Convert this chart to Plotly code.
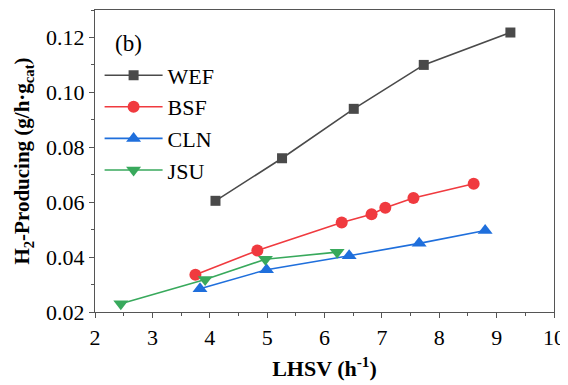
import plotly.graph_objects as go

wef_x = [4.10, 5.26, 6.51, 7.73, 9.24]
wef_y = [0.0605, 0.0760, 0.0940, 0.1100, 0.1218]
bsf_x = [3.75, 4.83, 6.30, 6.82, 7.06, 7.55, 8.60]
bsf_y = [0.0336, 0.0424, 0.0526, 0.0556, 0.0580, 0.0615, 0.0667]
cln_x = [3.83, 4.99, 6.43, 7.65, 8.80]
cln_y = [0.0285, 0.0354, 0.0405, 0.0450, 0.0497]
jsu_x = [2.45, 3.92, 4.97, 6.22]
jsu_y = [0.0230, 0.0318, 0.0392, 0.0418]

FONT = "Liberation Serif"

fig = go.Figure()
series = [
    ("WEF", wef_x, wef_y, "#4a4a4a", "square", 10),
    ("BSF", bsf_x, bsf_y, "#f03a3f", "circle", 12),
    ("CLN", cln_x, cln_y, "#1f6fdc", "triangle-up", 13),
    ("JSU", jsu_x, jsu_y, "#38a95c", "triangle-down", 13),
]
for name, x, y, c, sym, sz in series:
    fig.add_trace(go.Scatter(
        x=x, y=y, name=name, mode="lines+markers", legendgroup=name,
        line=dict(color=c, width=1.6),
        marker=dict(color=c, symbol=sym, size=sz, line=dict(width=0)),
    ))

fig.add_annotation(text="(b)", x=0.04, y=0.89, xref="paper", yref="paper",
                   xanchor="left", yanchor="middle", showarrow=False,
                   font=dict(family=FONT, size=23, color="black"))

axis_common = dict(
    showgrid=False, zeroline=False, showline=True, linecolor="#555555",
    linewidth=1.2, mirror=True, ticks="outside", ticklen=5, tickwidth=1,
    tickcolor="#555555", tickfont=dict(family=FONT, size=22, color="black"),
    automargin=False,
)
fig.update_xaxes(range=[2, 10], dtick=1, tick0=2,
                 minor=dict(ticks="outside", dtick=0.5, ticklen=3, tickcolor="#555555"),
                 title=dict(text="<b>LHSV (h<sup>-1</sup>)</b>", standoff=12,
                            font=dict(family=FONT, size=22, color="black")),
                 **axis_common)
fig.update_yaxes(range=[0.02, 0.13], dtick=0.02, tick0=0.02, tickformat=".2f",
                 minor=dict(ticks="outside", dtick=0.01, ticklen=3, tickcolor="#555555"),
                 title=dict(text="<b>H<sub>2</sub>-Producing (g/h·g<sub>cat</sub>)</b>", standoff=10,
                            font=dict(family=FONT, size=21, color="black")),
                 **axis_common)

fig.update_layout(
    width=560, height=377,
    margin=dict(l=87, r=14, t=2, b=73, autoexpand=False),
    paper_bgcolor="white", plot_bgcolor="white",
    showlegend=True,
    legend=dict(x=0.01, y=0.853, xanchor="left", yanchor="top",
                font=dict(family=FONT, size=22, color="black"),
                bgcolor="rgba(0,0,0,0)", tracegroupgap=0, itemwidth=58),
)

fig.write_html("out.html")
